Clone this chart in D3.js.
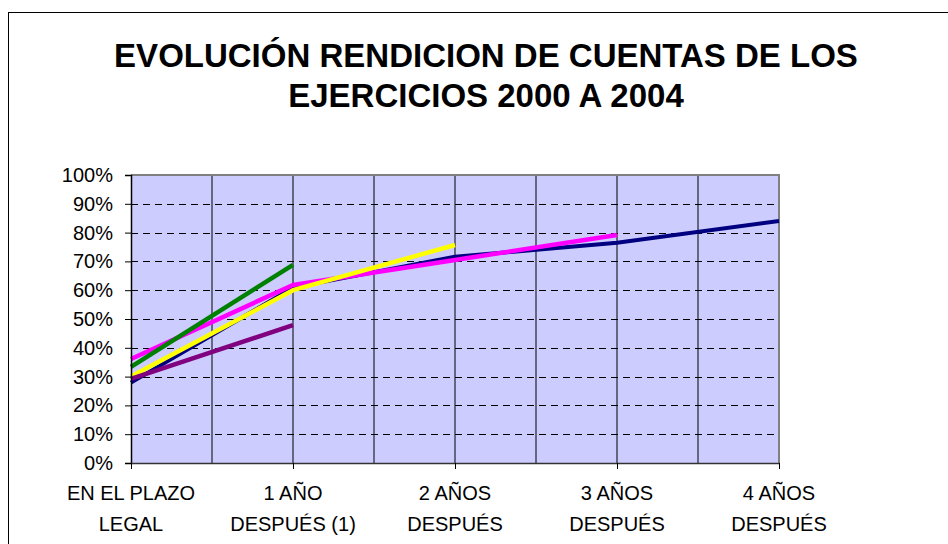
<!DOCTYPE html>
<html>
<head>
<meta charset="utf-8">
<script src="https://cdn.jsdelivr.net/npm/d3@7"></script>
<style>
  html, body { margin: 0; padding: 0; background: #fff; }
  svg { display: block; font-family: "Liberation Sans", Arial, sans-serif; }
</style>
</head>
<body>
<svg id="chart" width="948" height="544"></svg>
<script>
// ---- data ----
const titleLines = ["EVOLUCIÓN RENDICION DE CUENTAS DE LOS", "EJERCICIOS 2000 A 2004"];
const categories = [["EN EL PLAZO", "LEGAL"], ["1 AÑO", "DESPUÉS (1)"], ["2 AÑOS", "DESPUÉS"], ["3 AÑOS", "DESPUÉS"], ["4 AÑOS", "DESPUÉS"]];
const yTicks = [0, 10, 20, 30, 40, 50, 60, 70, 80, 90, 100];
const seriesNames = ["2000", "2001", "2002", "2003", "2004"];
const s2000 = [27.9, 60.9, 71.6, 76.5, 84.0];
const s2001 = [36.1, 61.8, 70.5, 79.2];
const s2002 = [30.0, 60.0, 75.7];
const s2003 = [33.4, 68.8];
const s2004 = [29.2, 47.9];
const seriesValues = [s2000, s2001, s2002, s2003, s2004];
const seriesColors = ["#000080", "#FF00FF", "#FFFF00", "#008000", "#800080"];

// ---- layout ----
const svg = d3.select("#chart");
const pLeft = 131, pRight = 779, pTop = 175, pBottom = 463;

// outer frame
svg.append("rect").attr("x", 8.5).attr("y", 12.5).attr("width", 960).attr("height", 560)
  .attr("fill", "#fff").attr("stroke", "#000").attr("stroke-width", 1);

// title
const title = svg.append("text").attr("text-anchor", "middle")
  .attr("font-weight", "bold").attr("font-size", 33).attr("fill", "#000");
title.selectAll("tspan").data(titleLines).enter().append("tspan")
  .attr("x", 486).attr("y", (d, i) => 67 + i * 40).text(d => d);

const x = d3.scaleLinear().domain([0, categories.length - 1]).range([pLeft, pRight]);
const y = d3.scaleLinear().domain([0, 100]).range([pBottom, pTop]);

// plot area
svg.append("rect").attr("x", pLeft).attr("y", pTop).attr("width", pRight - pLeft).attr("height", pBottom - pTop)
  .attr("fill", "#CCCCFF");

// vertical gridlines (every half category)
const vGrid = d3.range(0.5, categories.length - 1, 0.5);
svg.append("g").selectAll("line").data(vGrid).enter().append("line")
  .attr("x1", d => x(d)).attr("x2", d => x(d)).attr("y1", pTop).attr("y2", pBottom)
  .attr("stroke", "#000").attr("stroke-width", 1);

// horizontal dashed gridlines
svg.append("g").selectAll("line").data(yTicks.filter(t => t > 0 && t < 100)).enter().append("line")
  .attr("x1", pLeft).attr("x2", pRight).attr("y1", d => Math.round(y(d)) + 0.5).attr("y2", d => Math.round(y(d)) + 0.5)
  .attr("stroke", "#000").attr("stroke-width", 1).attr("stroke-dasharray", "7,5");

// plot border top/right gray
svg.append("path").attr("d", `M${pLeft},${pTop}H${pRight}V${pBottom}`)
  .attr("fill", "none").attr("stroke", "#808080").attr("stroke-width", 2);

// lines
const line = d3.line().x((d, i) => x(i)).y(d => y(d));
svg.append("g").selectAll("path").data(seriesValues).enter().append("path")
  .attr("d", d => line(d)).attr("fill", "none")
  .attr("stroke", (d, i) => seriesColors[i])
  .attr("stroke-width", (d, i) => i === 0 ? 4 : 4.5)
  .attr("stroke-linejoin", "round");

// y axis
const yAxis = d3.axisLeft(y).tickValues(yTicks).tickFormat(d => d + "%").tickSize(6).tickPadding(12);
const gy = svg.append("g").attr("transform", `translate(${pLeft},0)`).call(yAxis);
gy.select(".domain").attr("stroke", "#000").attr("stroke-width", 1.5);
gy.selectAll(".tick line").attr("stroke", "#000");
gy.selectAll(".tick text").attr("font-size", 20).attr("fill", "#000")
  .attr("font-family", "Liberation Sans, Arial, sans-serif");

// x axis
const xAxis = d3.axisBottom(x).tickValues(d3.range(categories.length)).tickFormat("").tickSize(6).tickSizeOuter(0);
const gx = svg.append("g").attr("transform", `translate(0,${pBottom})`).call(xAxis);
gx.select(".domain").attr("stroke", "#333").attr("stroke-width", 1.5);
gx.selectAll(".tick line").attr("stroke", "#000");

const labels = svg.append("g").attr("font-size", 20).attr("fill", "#000").attr("text-anchor", "middle");
categories.forEach((c, i) => {
  c.forEach((t, j) => {
    labels.append("text").attr("x", x(i)).attr("y", 500 + j * 31).text(t);
  });
});
</script>
</body>
</html>
